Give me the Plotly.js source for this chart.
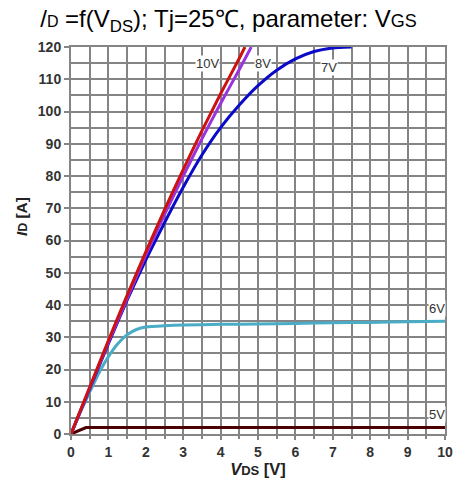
<!DOCTYPE html>
<html>
<head>
<meta charset="utf-8">
<script src="https://cdn.plot.ly/plotly-3.0.1.min.js"></script>
<style>html,body{margin:0;padding:0;background:#fff;}#chart{width:457px;height:479px;}</style>
</head>
<body>
<div id="chart"></div>
<script>
// Output characteristics I_D = f(V_DS), parameter V_GS
const x10V = [0, 0.5, 1, 1.5, 2, 2.5, 3, 3.5, 4, 4.5, 4.65];
const y10V = [0, 14.5, 29, 43, 56.5, 69.5, 82, 94, 105.5, 116.5, 120];
const x8V = [0, 0.5, 1, 1.5, 2, 2.5, 3, 3.5, 4, 4.5, 4.82];
const y8V = [0, 14.3, 28.5, 42, 55.5, 68, 80, 91.5, 102.5, 113, 120];
const x7V = [0, 0.5, 1, 1.5, 2, 2.5, 3, 3.5, 4, 4.5, 5, 5.5, 6, 6.5, 7, 7.5];
const y7V = [0, 14, 28, 41.5, 54, 65.5, 76.5, 86.5, 95, 102, 108, 112.8, 116.3, 118.6, 119.7, 120];
const x6V = [0, 0.25, 0.5, 0.75, 1, 1.25, 1.5, 1.75, 2, 2.5, 3, 4, 5, 6, 7, 8, 9, 10];
const y6V = [0, 6.8, 13, 19, 24, 28, 30.8, 32.4, 33.2, 33.6, 33.8, 34, 34.1, 34.3, 34.5, 34.6, 34.8, 35];
const x5V = [0, 0.4, 10];
const y5V = [0, 2, 2];
const labelText = ["10V", "8V", "7V", "6V", "5V"];
const labelX = [3.64, 5.13, 6.9, 9.79, 9.79];
const labelY = [115, 115, 113.8, 38.8, 5.9];
const xTicks = [0, 1, 2, 3, 4, 5, 6, 7, 8, 9, 10];
const yTicks = [0, 10, 20, 30, 40, 50, 60, 70, 80, 90, 100, 110, 120];

const mk = (x, y, color, shape) => ({
  x: x, y: y, type: 'scatter', mode: 'lines',
  line: {color: color, width: 3, shape: shape, smoothing: 0.5},
  hoverinfo: 'skip', showlegend: false
});
const traces = [
  mk(x5V, y5V, '#4a0000', 'linear'),
  mk(x6V, y6V, '#4bacc6', 'spline'),
  mk(x7V, y7V, '#0a0ac8', 'spline'),
  mk(x8V, y8V, '#9933dd', 'spline'),
  mk(x10V, y10V, '#cc1111', 'spline')
];

const FONT = 'Arial, "Liberation Sans", sans-serif';
const annotations = labelText.map((t, i) => ({
  x: labelX[i], y: labelY[i], xref: 'x', yref: 'y', text: t, showarrow: false,
  font: {family: FONT, size: 13, color: '#333'},
  bgcolor: '#ffffff', borderpad: 0
}));
annotations.push({
  xref: 'paper', yref: 'paper', x: -0.131, y: 0.561, xanchor: 'center', yanchor: 'middle',
  textangle: -90, showarrow: false,
  text: "<b><i>I</i><span style='font-size:12px'>D</span> [A]</b>",
  font: {family: FONT, size: 15.5, color: '#222'}
});

const gridColor = '#858585';
const layout = {
  width: 457, height: 479,
  margin: {l: 71, r: 12, t: 47, b: 45},
  paper_bgcolor: '#fff', plot_bgcolor: '#fff',
  title: {
    text: "/<span style='font-size:16px'>D</span> =f(V<sub>DS</sub>); Tj=25℃, parameter: V<span style='font-size:18px'>GS</span>",
    font: {family: FONT, size: 24, color: '#000'},
    x: 0.5, xanchor: 'center', y: 0.962, yanchor: 'middle'
  },
  xaxis: {
    range: [0, 10], tickmode: 'array', tickvals: xTicks, ticktext: xTicks.map(v => '<b>' + v + '</b>'),
    showgrid: true, gridcolor: gridColor, gridwidth: 2,
    minor: {dtick: 0.5, tick0: 0, showgrid: true, gridcolor: gridColor, gridwidth: 2, ticks: 'outside', ticklen: 3, tickcolor: gridColor},
    showline: true, linecolor: gridColor, linewidth: 2, mirror: true,
    ticks: 'outside', ticklen: 4, tickcolor: gridColor, tickwidth: 2,
    zeroline: false,
    tickfont: {family: FONT, size: 14, color: '#333'},
    title: {text: "<b><i>V</i><span style='font-size:13px'>DS</span> [V]</b>", font: {family: FONT, size: 16.5, color: '#222'}, standoff: 3}
  },
  yaxis: {
    range: [0, 120], tickmode: 'array', tickvals: yTicks, ticktext: yTicks.map(v => '<b>' + v + '</b>'),
    showgrid: true, gridcolor: gridColor, gridwidth: 2,
    minor: {dtick: 5, tick0: 0, showgrid: true, gridcolor: gridColor, gridwidth: 2},
    showline: true, linecolor: gridColor, linewidth: 2, mirror: true,
    ticks: 'outside', ticklen: 5, tickcolor: gridColor, tickwidth: 2,
    zeroline: false,
    tickfont: {family: FONT, size: 14, color: '#333'}
  },
  annotations: annotations
};

Plotly.newPlot('chart', traces, layout, {staticPlot: true, displayModeBar: false});
</script>
</body>
</html>
